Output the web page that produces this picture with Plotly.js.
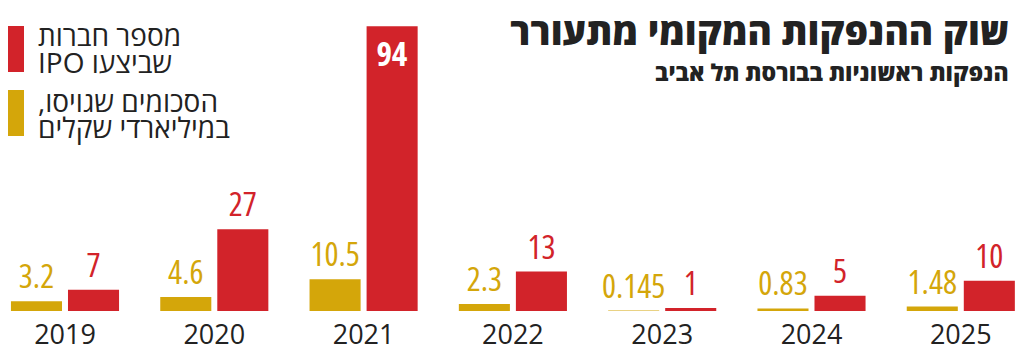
<!DOCTYPE html>
<html>
<head>
<meta charset="utf-8">
<script src="https://cdn.plot.ly/plotly-3.0.1.min.js"></script>
<style>
html,body{margin:0;padding:0;background:#fff;}
#chart{width:1024px;height:363px;}
#chart .bars text { font-stretch: 87.5%; }
#chart .annotation[data-index="6"] text { font-stretch: 80%; }
</style>
</head>
<body>
<div id="chart"></div>
<script>
const years = ['2019','2020','2021','2022','2023','2024','2025'];
const amountRaised = [3.2, 4.6, 10.5, 2.3, 0.145, 0.83, 1.48];   // billions of shekels
const ipoCount = [7, 27, 94, 13, 1, 5, 10];
const amountLabels = ['3.2','4.6','10.5','2.3','0.145','0.83','1.48'];
const countLabels = ['7','27','94','13','1','5','10'];

const titleText = 'שוק ההנפקות המקומי מתעורר';
const subtitleText = 'הנפקות ראשוניות בבורסת תל אביב';
const legendRed = ['מספר חברות', 'שביצעו IPO'];
const legendGold = ['הסכומים שגויסו,', 'במיליארדי שקלים'];

const RED = '#d2232a';
const GOLD = '#d4a60a';
const W = 1024, H = 363, B = 52;
const PH = H - B;
const step = 149.3, c0 = 65;
const x0 = -c0 / step, x1 = x0 + W / step;
const yMax = PH / 3.03;
const numFont = '"Open Sans", "DejaVu Sans", sans-serif';
const txtFont = '"Open Sans", "DejaVu Sans", sans-serif';
const rtl = s => '\u202B' + s + '\u202C';
const px = v => v / W;
const py = v => (PH - v) / PH;
const BW = 0.342, GOFF = -0.362, ROFF = 0.02;
const insideIdx = ipoCount.map((v, i) => v > 60 ? i : -1).filter(i => i >= 0);

const traces = [
  {
    type: 'bar', x: years, y: amountRaised, name: 'amount',
    marker: {color: GOLD}, width: BW, offset: GOFF,
    text: amountLabels, textposition: 'outside', cliponaxis: false, constraintext: 'none',
    textfont: {family: numFont, size: 33, weight: 500, color: GOLD},
    hoverinfo: 'skip'
  },
  {
    type: 'bar', x: years, y: ipoCount, name: 'count',
    marker: {color: RED}, width: BW, offset: ROFF,
    text: countLabels.map((t, i) => insideIdx.includes(i) ? '' : t),
    textposition: 'outside', cliponaxis: false, constraintext: 'none',
    textfont: {family: numFont, size: 33, weight: 500, color: RED},
    hoverinfo: 'skip'
  }
];

const annotations = [
  {xref: 'paper', yref: 'paper', x: px(1011), y: py(30), xanchor: 'right', yanchor: 'middle',
   text: titleText, showarrow: false,
   font: {family: txtFont, size: 37, weight: 800, color: '#222'}},
  {xref: 'paper', yref: 'paper', x: px(1011), y: py(72), xanchor: 'right', yanchor: 'middle',
   text: subtitleText, showarrow: false,
   font: {family: txtFont, size: 23, weight: 800, color: '#222'}},
  {xref: 'paper', yref: 'paper', x: px(36), y: py(35), xanchor: 'left', yanchor: 'middle', align: 'left',
   text: rtl(legendRed[0]), showarrow: false, font: {family: txtFont, size: 28, color: '#222'}},
  {xref: 'paper', yref: 'paper', x: px(36), y: py(62), xanchor: 'left', yanchor: 'middle', align: 'left',
   text: rtl(legendRed[1]), showarrow: false, font: {family: txtFont, size: 28, color: '#222'}},
  {xref: 'paper', yref: 'paper', x: px(36), y: py(101), xanchor: 'left', yanchor: 'middle', align: 'left',
   text: rtl(legendGold[0]), showarrow: false, font: {family: txtFont, size: 28, color: '#222'}},
  {xref: 'paper', yref: 'paper', x: px(36), y: py(127), xanchor: 'left', yanchor: 'middle', align: 'left',
   text: rtl(legendGold[1]), showarrow: false, font: {family: txtFont, size: 28, color: '#222'}}
];
insideIdx.forEach(i => annotations.push({
  xref: 'x', yref: 'y', x: i + ROFF + BW / 2, y: ipoCount[i], xanchor: 'center', yanchor: 'top',
  yshift: -3, text: countLabels[i], showarrow: false,
  font: {family: numFont, size: 33, weight: 700, color: '#ffffff'}
}));

const layout = {
  width: W, height: H,
  margin: {l: 0, r: 0, t: 0, b: B, pad: 0},
  paper_bgcolor: '#fff', plot_bgcolor: '#fff',
  showlegend: false,
  barmode: 'group',
  xaxis: {
    type: 'category', range: [x0, x1], showgrid: false, zeroline: false,
    showline: false, ticks: '', fixedrange: true, ticklabelstandoff: 5,
    tickfont: {family: txtFont, size: 27, color: '#222'}
  },
  yaxis: {range: [0, yMax], visible: false, fixedrange: true},
  shapes: [
    {type: 'rect', xref: 'paper', yref: 'paper', x0: px(8), x1: px(24), y0: py(26), y1: py(72), fillcolor: RED, line: {width: 0}},
    {type: 'rect', xref: 'paper', yref: 'paper', x0: px(8), x1: px(24), y0: py(90), y1: py(136), fillcolor: GOLD, line: {width: 0}}
  ],
  annotations: annotations
};

Plotly.newPlot('chart', traces, layout, {displayModeBar: false, staticPlot: true});
</script>
</body>
</html>
